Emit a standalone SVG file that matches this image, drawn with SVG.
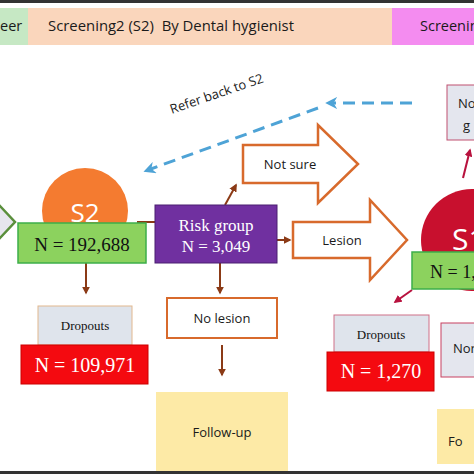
<svg xmlns="http://www.w3.org/2000/svg" width="474" height="474" viewBox="0 0 474 474">
<defs>
<style>
.sans{font-family:"Open Sans","Noto Sans",sans-serif;fill:#1a1a1a}
.serif{font-family:"Liberation Serif","Times New Roman",serif}
.brown{stroke:#8B3A16;stroke-width:2;fill:none}
.crim{stroke:#B8123E;stroke-width:2;fill:none}
.blue{stroke:#4EA3D6;stroke-width:3;fill:none;stroke-dasharray:12 7}
.blockarrow{fill:#fff;stroke:#D86A2C;stroke-width:2.5}
</style>
<marker id="ab" viewBox="0 0 10 10" refX="8" refY="5" markerWidth="4" markerHeight="4" orient="auto"><path d="M0,0L10,5L0,10z" fill="#8B3A16"/></marker>
<marker id="ac" viewBox="0 0 10 10" refX="8" refY="5" markerWidth="4" markerHeight="4" orient="auto"><path d="M0,0L10,5L0,10z" fill="#B8123E"/></marker>
<marker id="abl" viewBox="0 0 10 10" refX="6" refY="5" markerWidth="4" markerHeight="4" orient="auto"><path d="M0,0L10,5L0,10L3,5z" fill="#4EA3D6"/></marker>
</defs>
<rect width="474" height="474" fill="#fff"/>
<rect x="0" y="0" width="474" height="3" fill="#333"/>
<rect x="0" y="471" width="474" height="3" fill="#333"/>

<g id="header">
<rect x="0" y="8" width="28" height="37" fill="#C6E8C4"/>
<rect x="28" y="8" width="364" height="37" fill="#FAD6BC"/>
<rect x="392" y="8" width="82" height="37" fill="#F48CF0"/>
<text class="sans" x="0" y="31" font-size="14.5">eer</text>
<text class="sans" x="48" y="31" font-size="14.5" textLength="246" lengthAdjust="spacingAndGlyphs" xml:space="preserve">Screening2 (S2)  By Dental hygienist</text>
<text class="sans" x="420" y="31" font-size="14.5">Screening</text>
</g>

<g id="connectors">
<path class="blue" d="M412,103 H330" marker-end="url(#abl)"/>
<path class="blue" d="M318,108 L148,170" marker-end="url(#abl)"/>
<path class="brown" d="M137,222 H155"/>
<path class="brown" d="M225,205 L236,185" marker-end="url(#ab)"/>
<path class="brown" d="M277,240 H290" marker-end="url(#ab)"/>
<path class="brown" d="M220,263 V293" marker-end="url(#ab)"/>
<path class="brown" d="M222,345 V375" marker-end="url(#ab)"/>
<path class="brown" d="M86,263 V293" marker-end="url(#ab)"/>
<path class="crim" d="M463,178 L470,150" marker-end="url(#ac)"/>
<path class="crim" d="M412,290 L395,302" marker-end="url(#ac)"/>
</g>

<text class="sans" x="218" y="98" font-size="13" text-anchor="middle" transform="rotate(-19 218 98)">Refer back to S2</text>

<g id="start-diamond">
<polygon points="-12,222 0,206 15,222 0,238" fill="#E6E6EE" stroke="#5A8F3C" stroke-width="2.5"/>
</g>

<g id="s2">
<circle cx="85" cy="211" r="43" fill="#F47B30"/>
<text x="85" y="222" font-family="'Open Sans',sans-serif" font-size="26" fill="#fff" text-anchor="middle">S2</text>
<rect x="18" y="223" width="128" height="40" fill="#8CD25E" stroke="#3DAE4A" stroke-width="1.5"/>
<text class="serif" x="82" y="251" font-size="19" text-anchor="middle" fill="#111">N = 192,688</text>
</g>

<g id="risk">
<rect x="155" y="205" width="122" height="58" fill="#7030A0" stroke="#4A1E70" stroke-width="1"/>
<text class="serif" x="216" y="231" font-size="17" text-anchor="middle" fill="#fff">Risk group</text>
<text class="serif" x="216" y="252" font-size="17" text-anchor="middle" fill="#fff">N = 3,049</text>
</g>

<g id="notsure">
<polygon class="blockarrow" points="243,145 318,145 318,125 358,164 318,203 318,183 243,183"/>
<text class="sans" x="290" y="169" font-size="13" text-anchor="middle">Not sure</text>
</g>

<g id="lesion">
<polygon class="blockarrow" points="293,222 370,222 370,200 407,240 370,280 370,258 293,258"/>
<text class="sans" x="342" y="245" font-size="13" text-anchor="middle">Lesion</text>
</g>

<g id="nolesion">
<rect x="167" y="298" width="110" height="40" fill="#fff" stroke="#D86A2C" stroke-width="2"/>
<text class="sans" x="222" y="323" font-size="13" text-anchor="middle">No lesion</text>
</g>

<g id="followup1">
<rect x="156" y="392" width="132" height="79" fill="#FDEAA6"/>
<text class="sans" x="222" y="437" font-size="13" text-anchor="middle">Follow-up</text>
</g>

<g id="dropouts1">
<rect x="38" y="306" width="94" height="39" fill="#DFE4EC" stroke="#E2B88E" stroke-width="1"/>
<text class="serif" x="85" y="330" font-size="13" text-anchor="middle" fill="#111">Dropouts</text>
<rect x="21" y="345" width="127" height="39" fill="#F40A10" stroke="#C00" stroke-width="1"/>
<text class="serif" x="85" y="372" font-size="20" text-anchor="middle" fill="#fff">N = 109,971</text>
</g>

<g id="s1">
<circle cx="472" cy="240" r="51" fill="#C8102E"/>
<text x="452" y="250" font-family="'Open Sans',sans-serif" font-size="30" fill="#fff">S1</text>
<rect x="412" y="252" width="70" height="37" fill="#8CD25E" stroke="#3DAE4A" stroke-width="1.5"/>
<text class="serif" x="430" y="278" font-size="18" fill="#111">N = 1,</text>
</g>

<g id="dropouts2">
<rect x="334" y="315" width="95" height="37" fill="#DFE4EC" stroke="#D07088" stroke-width="1"/>
<text class="serif" x="381" y="339" font-size="13" text-anchor="middle" fill="#111">Dropouts</text>
<rect x="327" y="352" width="107" height="39" fill="#F40A10" stroke="#C00" stroke-width="1"/>
<text class="serif" x="381" y="378" font-size="20" text-anchor="middle" fill="#fff">N = 1,270</text>
</g>

<g id="nor-box">
<rect x="441" y="323" width="40" height="54" fill="#E4E6EE" stroke="#C84060" stroke-width="1"/>
<text class="sans" x="453" y="353" font-size="13">Nor</text>
</g>

<g id="no-box">
<rect x="447" y="85" width="40" height="55" fill="#E4E6EE" stroke="#C05070" stroke-width="1"/>
<text class="sans" x="458" y="108" font-size="13">No</text>
<text class="sans" x="463" y="130" font-size="13">g</text>
</g>

<g id="followup2">
<rect x="437" y="409" width="40" height="55" fill="#FDEAA6"/>
<text class="sans" x="448" y="446" font-size="13">Fo</text>
</g>
</svg>
